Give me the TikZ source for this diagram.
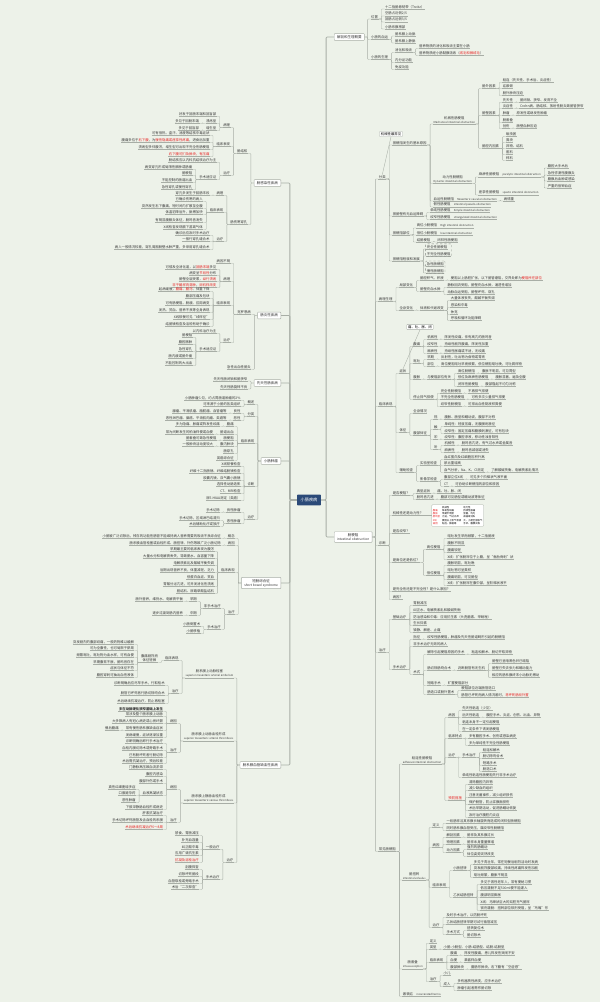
\documentclass[tikz,border=0pt]{standalone}
\usepackage{fontspec}
\setmainfont{Noto Sans CJK SC}
\usetikzlibrary{calc,fit,positioning}
\definecolor{bgmint}{RGB}{237,242,233}
\definecolor{linegray}{RGB}{168,174,166}
\definecolor{hubblue}{RGB}{43,74,120}
\definecolor{mkred}{RGB}{232,36,36}
\newcommand\hl[1]{\textcolor{mkred}{#1}}
\newcommand\engl[1]{{\fontsize{3.8}{4.4}\selectfont #1}}
\newcommand\englb[1]{{\fontsize{4.6}{5.2}\selectfont #1}}
\tikzset{
  leaf/.style={inner xsep=0.6pt, inner ysep=0.7pt, align=center, text=black!78,
    font=\fontsize{4.8}{5.4}\selectfont,
    append after command={(\tikzlastnode.south west) edge[linegray, line width=0.55pt] (\tikzlastnode.south east)}},
  topic/.style={draw=linegray, fill=white, rounded corners=1pt, line width=0.6pt,
    inner xsep=4pt, inner ysep=2.5pt, align=center, text=black!80, font=\fontsize{5}{5.8}\selectfont},
  hub/.style={fill=hubblue, text=white, rounded corners=1pt, inner xsep=5pt, inner ysep=5pt,
    font=\fontsize{6}{7}\selectfont},
  callout/.style={draw=linegray, fill=white, rounded corners=1pt, inner xsep=2pt, inner ysep=1.5pt,
    font=\fontsize{4.8}{5.4}\selectfont},
  tbl/.style={draw=linegray, fill=white, rounded corners=1pt, inner sep=1.5pt,
    font=\fontsize{3.4}{4.6}\selectfont},
  dashbox/.style={draw=linegray!80!black, dashed, rounded corners=1.5pt, inner sep=1pt},
  conn/.style={linegray, line width=0.55pt, rounded corners=1pt},
  trunk/.style={linegray, line width=1.2pt, rounded corners=1.5pt}
}
% right / left children, from a leaf (underline) or from a box
\newcommand\kidr[4]{\node[leaf,anchor=south west] (#1) at ($(#2.south east)+(6,#3)$) {#4};
  \draw[conn] (#2.south east) -- ++(3,0) |- (#1.south west);}
\newcommand\kidrb[4]{\node[leaf,anchor=south west] (#1) at ($(#2.east)+(6,#3)$) {#4};
  \draw[conn] (#2.east) -- ++(3,0) |- (#1.south west);}
\newcommand\kidl[4]{\node[leaf,anchor=south east] (#1) at ($(#2.south west)+(-6,#3)$) {#4};
  \draw[conn] (#2.south west) -- ++(-3,0) |- (#1.south east);}
\newcommand\kidlb[4]{\node[leaf,anchor=south east] (#1) at ($(#2.west)+(-6,#3)$) {#4};
  \draw[conn] (#2.west) -- ++(-3,0) |- (#1.south east);}

\begin{document}
\begin{tikzpicture}[x=0.05cm, y=-0.05cm]
\fill[bgmint] (0,0) rectangle (600,1002);
\useasboundingbox (0,0) rectangle (600,1002);

\node[hub] (xc) at (309,500) {小肠疾病};
\node[topic, anchor=west] (gs) at (334,37) {解剖和生理概要};
\node[topic, anchor=west] (cgz) at (334,537) {肠梗阻\\\englb{intestinal obstruction}};
\node[topic, anchor=east] (Lgr) at (281,183) {肠感染性疾病};
\node[topic, anchor=east] (Lyz) at (281,315.5) {肠炎性疾病};
\node[topic, anchor=east] (Lxt) at (281,383) {先天性肠疾病};
\node[topic, anchor=east] (Lzl) at (281,461) {小肠肿瘤};
\node[topic, anchor=east] (Ldc) at (281,583) {短肠综合征\\\englb{short bowel syndrome}};
\node[topic, anchor=east] (Lxg) at (281,765) {肠系膜血管缺血性疾病};

\draw[trunk] (xc.east) -- ++(5,0) |- (gs.west);
\draw[trunk] (xc.east) -- ++(5,0) |- (cgz.west);
\foreach \t in {Lgr,Lyz,Lxt,Lzl,Ldc,Lxg}
  \draw[trunk] (xc.west) -- ++(-7,0) |- (\t.east);

% ---- anatomy
\kidrb{gs1}{gs}{-18}{位置}
\kidr{gs11}{gs1}{-10}{十二指肠悬韧带（Treitz）}
\kidr{gs12}{gs1}{-3}{空肠占近侧2/5}
\kidr{gs13}{gs1}{3}{回肠占远侧3/5}
\kidr{gs14}{gs1}{10}{小肠系膜根部}
\kidrb{gs2}{gs}{2.5}{小肠的血运}
\kidr{gs21}{gs2}{-3.5}{肠系膜上动脉}
\kidr{gs22}{gs2}{3.5}{肠系膜上静脉}
\kidrb{gs3}{gs}{22.5}{小肠的生理}
\kidr{gs31}{gs3}{-7}{消化和吸收}
\kidr{gs311}{gs31}{-4}{营养物质的消化和吸收主要在小肠}
\kidr{gs312}{gs31}{3}{营养物质经小肠黏膜吸收（\hl{绒毛和微绒毛}）}
\kidr{gs32}{gs3}{3}{内分泌功能}
\kidr{gs33}{gs3}{10}{免疫功能}

% ---- obstruction: classification
\kidrb{fl}{cgz}{-358}{分类}
\node[callout] (flnote) at (391,134) {机械性最常见};
\draw[linegray, line width=0.5pt] (flnote.south) -- (fl.north);
\kidr{fa}{fl}{-34}{按梗阻发生的基本原因}
\kidr{fa1}{fa}{-21}{机械性肠梗阻\\\engl{Mechanical intestinal obstruction}}
\kidr{fa11}{fa1}{-35.5}{肠外因素}
\kidr{fa111}{fa11}{-6}{粘连（先天性、手术后、炎症性）}
\kidr{fa112}{fa11}{0}{疝嵌顿}
\kidr{fa113}{fa11}{7}{肠外肿块压迫}
\kidr{fa12}{fa1}{-8.5}{肠壁因素}
\kidr{fa121}{fa12}{-13}{先天性}\kidr{fa121a}{fa121}{0}{肠闭锁、狭窄、发育不全}
\kidr{fa122}{fa12}{-7}{炎症性}\kidr{fa122a}{fa122}{0}{Crohn病、肠结核、放射性肠炎致肠管狭窄}
\kidr{fa123}{fa12}{0}{肿瘤}\kidr{fa123a}{fa123}{0}{原发性或继发性肿瘤}
\kidr{fa124}{fa12}{7}{肠套叠}
\kidr{fa125}{fa12}{13}{创伤}\kidr{fa125a}{fa125}{0}{肠壁血肿压迫}
\kidr{fa13}{fa1}{24.5}{肠腔内因素}
\kidr{fa131}{fa13}{-12}{蛔虫团}
\kidr{fa132}{fa13}{-6}{粪块}
\kidr{fa133}{fa13}{0}{异物、结石}
\kidr{fa134}{fa13}{6}{胆石}
\kidr{fa135}{fa13}{12}{柿石}
\kidr{fa2}{fa}{38.5}{动力性肠梗阻\\\engl{Dynamic intestinal obstruction}}
\kidr{fa21}{fa2}{-6.5}{麻痹性肠梗阻\quad\engl{paralytic intestinal obstruction}}
\kidr{fa211}{fa21}{-9}{腹腔大手术后}
\kidr{fa212}{fa21}{-2}{急性弥漫性腹膜炎}
\kidr{fa213}{fa21}{4}{腹膜后血肿或感染}
\kidr{fa214}{fa21}{11}{严重的低钾血症}
\kidr{fa22}{fa2}{11.5}{痉挛性肠梗阻\quad\engl{spastic intestinal obstruction}}
\kidr{fa3}{fa}{56}{血运性肠梗阻\quad\engl{Mesenteric vascular obstruction}}
\kidr{fa31}{fa3}{0}{病情重}
\kidr{fa4}{fa}{62}{假性肠梗阻\quad\engl{intestinal pseudo-obstruction}}
\kidr{fb}{fl}{37}{按肠壁有无血运障碍}
\kidr{fb1}{fb}{-3.5}{单纯性肠梗阻\quad\engl{Simple intestinal obstruction}}
\kidr{fb2}{fb}{3.5}{绞窄性肠梗阻\quad\engl{strangulated intestinal obstruction}}
\kidr{fc}{fl}{56}{按梗阻部位}
\kidr{fc1}{fc}{-7}{高位小肠梗阻\quad\engl{High intestinal obstruction}}
\kidr{fc2}{fc}{0}{低位小肠梗阻\quad\engl{low intestinal obstruction}}
\kidr{fc3}{fc}{7}{结肠梗阻}\kidr{fc3a}{fc3}{0}{闭袢性肠梗阻}
\kidr{fd}{fl}{82}{按梗阻程度和发展}
\kidr{fd1}{fd}{-12}{完全性肠梗阻}
\kidr{fd2}{fd}{-5}{不完全性肠梗阻}
\kidr{fd3}{fd}{5}{急性肠梗阻}
\kidr{fd4}{fd}{12}{慢性肠梗阻}
\node[dashbox, fit=(fd1)(fd2)] (fdboxa) {};
\node[dashbox, fit=(fd3)(fd4)] (fdboxb) {};

% ---- pathophysiology
\kidrb{bl}{cgz}{-235.5}{病理生理}
\kidr{bl1}{bl}{-14}{局部变化}
\kidr{bl11}{bl1}{-7}{肠腔积气、积液}\kidr{bl11a}{bl11}{0}{梗阻以上肠腔扩张，以下肠管瘪陷，交界处即为\hl{梗阻所在部位}}
\kidr{bl12}{bl1}{4}{肠壁充血水肿}
\kidr{bl121}{bl12}{-4}{静脉回流受阻，肠壁充血水肿，通透性增加}
\kidr{bl122}{bl12}{3}{动脉血运受阻，肠壁坏死、穿孔}
\kidr{bl2}{bl}{9}{全身变化}
\kidr{bl21}{bl2}{0}{体液和代谢改变}
\kidr{bl211}{bl21}{-10}{大量体液丧失，酸碱平衡失调}
\kidr{bl212}{bl21}{-3}{感染和中毒}
\kidr{bl213}{bl21}{4}{休克}
\kidr{bl214}{bl21}{10}{呼吸和循环功能障碍}

% ---- clinical
\kidrb{lc}{cgz}{-130.5}{临床表现}
\kidr{zz}{lc}{-33}{症状}
\node[callout] (tukz) at (420,327) {痛、吐、胀、闭};
\draw[linegray, line width=0.5pt] (tukz.south) -- (zz.north);
\kidr{zz1}{zz}{-27}{腹痛}
\kidr{zz11}{zz1}{-7}{机械性}\kidr{zz11a}{zz11}{0}{阵发性绞痛，伴有高亢的肠鸣音}
\kidr{zz12}{zz1}{0}{绞窄性}\kidr{zz12a}{zz12}{0}{持续性剧烈腹痛，阵发性加重}
\kidr{zz13}{zz1}{7}{麻痹性}\kidr{zz13a}{zz13}{0}{持续性胀痛或不适，无绞痛}
\kidr{zz2}{zz}{-10}{呕吐}
\kidr{zz21}{zz2}{-4}{早期}\kidr{zz21a}{zz21}{0}{反射性，吐出物为食物或胃液}
\kidr{zz22}{zz2}{3}{部位}\kidr{zz22a}{zz22}{0}{高位梗阻呕吐早而频繁，低位梗阻呕吐晚，可吐粪样物}
\kidr{zz3}{zz}{6}{腹胀}
\kidr{zz31}{zz3}{0}{与梗阻部位有关}
\kidr{zz311}{zz31}{-6}{高位肠梗阻}\kidr{zz311a}{zz311}{0}{腹胀不明显，可见胃型}
\kidr{zz312}{zz31}{0}{低位及麻痹性肠梗阻}\kidr{zz312a}{zz312}{0}{腹胀显著，遍及全腹}
\kidr{zz313}{zz31}{7}{闭袢性肠梗阻}\kidr{zz313a}{zz313}{0}{腹部隆起不均匀对称}
\kidr{zz4}{zz}{26}{停止排气排便}
\kidr{zz41}{zz4}{-6}{完全性肠梗阻}\kidr{zz41a}{zz41}{0}{不再排气排便}
\kidr{zz42}{zz4}{0}{不完全性肠梗阻}\kidr{zz42a}{zz42}{0}{可有多次少量排气排便}
\kidr{zz43}{zz4}{7}{绞窄性肠梗阻}\kidr{zz43a}{zz43}{0}{可排出血性黏液样粪便}
\kidr{tz}{lc}{26}{体征}
\kidr{tz1}{tz}{-19}{全身情况}
\kidr{tz2}{tz}{3}{腹部体征}
\kidr{tz21}{tz2}{-16}{视}\kidr{tz21a}{tz21}{0}{腹胀、肠型和蠕动波，腹部不对称}
\kidr{tz22}{tz2}{-6}{触}
\kidr{tz221}{tz22}{-3}{单纯性：轻度压痛，无腹膜刺激征}
\kidr{tz222}{tz22}{4}{绞窄性：固定压痛和腹膜刺激征，可有包块}
\kidr{tz23}{tz2}{4}{叩}\kidr{tz23a}{tz23}{0}{绞窄性：腹腔渗液，移动性浊音阳性}
\kidr{tz24}{tz2}{14}{听}
\kidr{tz241}{tz24}{-4}{机械性}\kidr{tz241a}{tz241}{0}{肠鸣音亢进，有气过水声或金属音}
\kidr{tz242}{tz24}{3}{麻痹性}\kidr{tz242a}{tz242}{0}{肠鸣音减弱或消失}
\kidr{fz}{lc}{66}{辅助检查}
\kidr{fz1}{fz}{-7}{实验室检查}
\kidr{fz11}{fz1}{-6}{血红蛋白及红细胞压积升高}
\kidr{fz12}{fz1}{0}{尿比重增高}
\kidr{fz13}{fz1}{7}{血气分析，Na、K、Cl测定}\kidr{fz13a}{fz13}{0}{了解酸碱失衡、电解质紊乱情况}
\kidr{fz2}{fz}{9}{影像学检查}
\kidr{fz21}{fz2}{-2}{腹部立位X线}\kidr{fz21a}{fz21}{0}{可见多个阶梯状气液平面}
\kidr{fz22}{fz2}{5}{CT}\kidr{fz22a}{fz22}{0}{可协助诊断梗阻的部位和原因}

% ---- diagnosis
\kidrb{zd}{cgz}{8.5}{诊断}
\kidr{zd1}{zd}{-50}{是否梗阻？}
\kidr{zd11}{zd1}{-2}{典型症状}\kidr{zd11a}{zd11}{0}{痛、吐、胀、闭}
\kidr{zd12}{zd1}{4}{肠鸣音亢进}\kidr{zd12a}{zd12}{0}{腹部可见肠型或蠕动波等体征}
\kidr{zd2}{zd}{-30}{机械性还是动力性？}
\node[tbl, anchor=west] (jbtab) at ($(zd2.south east)+(8,0)$) {%
  \begin{tabular}{@{}l@{\hspace{3pt}}l@{\hspace{3pt}}l@{}}
   & 机械性 & 动力性\\
  \hl{腹痛} & 阵发性绞痛 & 持续性胀痛\\
  \hl{腹胀} & 早期不明显 & 显著，均匀\\
  \hl{肠鸣音} & 亢进，气过水声 & 减弱或消失\\
  \hl{X线} & 梗阻以上积气积液 & 大、小肠全部胀气\\
  \hl{病因} & 粘连、肿瘤等 & 手术、腹膜炎等
  \end{tabular}};
\draw[conn] (zd2.south east) -- (jbtab.west);
\kidr{zd3}{zd}{-12}{是否绞窄？}
\kidr{zd4}{zd}{17}{是高位还是低位？}
\kidr{zd41}{zd4}{-13}{高位梗阻}
\kidr{zd411}{zd41}{-11}{呕吐发生早而频繁，十二指肠液}
\kidr{zd412}{zd41}{-4}{腹胀不明显}
\kidr{zd413}{zd41}{3}{腹痛较轻}
\kidr{zd414}{zd41}{10}{X线：扩张肠袢位于上腹，呈“鱼肋骨刺”状}
\kidr{zd42}{zd4}{13}{低位梗阻}
\kidr{zd421}{zd42}{-10}{腹胀明显，呕吐晚}
\kidr{zd422}{zd42}{-3}{呕吐物可呈粪样}
\kidr{zd423}{zd42}{4}{腹痛明显，可见肠型}
\kidr{zd424}{zd42}{10}{X线：扩张肠袢在腹中部，呈阶梯状液平}
\kidr{zd5}{zd}{46}{是完全性还是不完全性？是什么原因？}
\kidr{zd6}{zd}{54}{病因？}

% ---- treatment
\kidrb{tr}{cgz}{115.5}{治疗}
\kidr{tr1}{tr}{-33}{基础治疗}
\kidr{tr11}{tr1}{-14}{胃肠减压}
\kidr{tr12}{tr1}{-7}{纠正水、电解质紊乱和酸碱失衡}
\kidr{tr13}{tr1}{0}{防治感染和中毒：应用抗生素（头孢菌素、甲硝唑）}
\kidr{tr14}{tr1}{6}{生长抑素}
\kidr{tr15}{tr1}{13}{镇静、解痉、止痛}
\kidr{tr2}{tr}{17}{手术治疗}
\kidr{tr21}{tr2}{-30}{指征}\kidr{tr21a}{tr21}{0}{绞窄性肠梗阻，肿瘤及先天性肠道畸形引起的肠梗阻}
\kidr{tr22}{tr2}{-23}{非手术治疗无效的病人}
\kidr{tr23}{tr2}{5}{术式}
\kidr{tr231}{tr23}{-20}{解除引起梗阻原因的手术}\kidr{tr231a}{tr231}{0}{粘连松解术、肠切开取异物}
\kidr{tr232}{tr23}{-4}{肠切除肠吻合术}\kidr{tr232a}{tr232}{0}{判断肠管有无生机}
\kidr{tr2321}{tr232a}{-7}{肠壁已呈暗黑色并已塌陷}
\kidr{tr2322}{tr232a}{0}{肠壁已失去张力和蠕动能力}
\kidr{tr2323}{tr232a}{7}{相应的肠系膜终末小动脉无搏动}
\kidr{tr233}{tr23}{11}{短路手术}\kidr{tr233a}{tr233}{0}{旷置梗阻部分}
\kidr{tr234}{tr23}{20}{肠造口或肠外置术}
\kidr{tr2341}{tr234}{-4}{梗阻部位近端肠管造口}
\kidr{tr2342}{tr234}{3}{肠管已坏死而病人情况差时，\hl{将坏死肠段外置}}

% ---- common types
\kidrb{cj}{cgz}{314.5}{常见肠梗阻}
\kidr{nl}{cj}{-87.5}{粘连性肠梗阻\\\engl{adhesive intestinal obstruction}}
\kidr{nl1}{nl}{-46.5}{病因}
\kidr{nl11}{nl1}{-7}{先天性粘连（少见）}
\kidr{nl12}{nl1}{0}{后天性粘连}\kidr{nl12a}{nl12}{0}{腹腔手术、炎症、创伤、出血、异物}
\kidr{nl13}{nl1}{7}{粘连本身不一定引起梗阻}
\kidr{nl14}{nl1}{14}{在一定条件下诱发肠梗阻}
\kidr{nl2}{nl}{-25.5}{临床特点}
\kidr{nl21}{nl2}{0}{多有腹腔手术、创伤或感染病史}
\kidr{nl22}{nl2}{7}{多为单纯性不完全性肠梗阻}
\kidr{nl3}{nl}{-6.5}{治疗}
\kidr{nl31}{nl3}{0}{手术治疗}
\kidr{nl311}{nl31}{-5}{粘连松解术}
\kidr{nl312}{nl31}{1}{肠切除吻合术}
\kidr{nl313}{nl31}{8}{短路手术}
\kidr{nl314}{nl31}{14}{肠造口术}
\kidr{nl32}{nl3}{20}{单纯性粘连性肠梗阻先行非手术治疗}
\kidr{nl4}{nl}{36.5}{\hl{预防措施}}
\kidr{nl41}{nl4}{-16}{清除腹腔内异物}
\kidr{nl42}{nl4}{-10}{减少缺血的组织}
\kidr{nl43}{nl4}{-3}{注意无菌操作，减少组织损伤}
\kidr{nl44}{nl4}{4}{保护肠管，防止浆膜面损伤}
\kidr{nl45}{nl4}{10}{术后早期活动，促进肠蠕动恢复}
\kidr{nl46}{nl4}{17}{及时治疗腹腔内炎症}
\kidr{nz}{cj}{28.5}{肠扭转\\\engl{intestinal volvulus}}
\kidr{nz1}{nz}{-52.5}{定义}
\kidr{nz11}{nz1}{-4}{一段肠袢沿其系膜长轴旋转而造成的闭袢型肠梗阻}
\kidr{nz12}{nz1}{3}{同时肠系膜血管受压，属绞窄性肠梗阻}
\kidr{nz2}{nz}{-32.5}{病因}
\kidr{nz21}{nz2}{-10}{解剖因素}\kidr{nz21a}{nz21}{0}{肠袢及其系膜过长}
\kidr{nz22}{nz2}{-3}{物理因素}\kidr{nz22a}{nz22}{0}{肠袢本身重量骤增}
\kidr{nz23}{nz2}{5}{动力因素}
\kidr{nz231}{nz23}{-3}{强烈的肠蠕动}
\kidr{nz232}{nz23}{4}{体位姿势突然改变}
\kidr{nz3}{nz}{7.5}{临床表现}
\kidr{nz31}{nz3}{-17}{小肠扭转}
\kidr{nz311}{nz31}{-6}{多见于青壮年，常在饱餐后剧烈活动时发病}
\kidr{nz312}{nz31}{0}{突发剧烈腹部绞痛，持续性疼痛阵发性加剧}
\kidr{nz313}{nz31}{7}{呕吐频繁，腹胀不明显}
\kidr{nz32}{nz3}{10}{乙状结肠扭转}
\kidr{nz321}{nz32}{-13}{多见于男性老年人，常有便秘习惯}
\kidr{nz322}{nz32}{-7}{低压灌肠不足500ml便不能灌入}
\kidr{nz323}{nz32}{0}{腹部明显膨胀}
\kidr{nz324}{nz32}{7}{X线：马蹄状巨大的双腔充气肠袢}
\kidr{nz325}{nz32}{13}{钡剂灌肠：扭转部位钡剂受阻，呈“鸟嘴”形}
\kidr{nz4}{nz}{47.5}{治疗}
\kidr{nz41}{nz4}{-10}{及时手术治疗，以防肠坏死}
\kidr{nz42}{nz4}{-3}{乙状结肠扭转早期可试行插管减压}
\kidr{nz43}{nz4}{7}{手术方式}
\kidr{nz431}{nz43}{-4}{扭转复位术}
\kidr{nz432}{nz43}{3}{肠切除术}
\kidr{ntd}{cj}{117.5}{肠套叠\\\engl{intussusception}}
\kidr{ntd1}{ntd}{-25.5}{定义}
\kidr{ntd2}{ntd}{-19.5}{类型}\kidr{ntd2a}{ntd2}{0}{小肠-小肠型、小肠-结肠型、结肠-结肠型}
\kidr{ntd3}{ntd}{-6.5}{临床表现}
\kidr{ntd31}{ntd3}{-7}{腹痛}\kidr{ntd31a}{ntd31}{0}{阵发性腹痛，患儿阵发性哭闹不安}
\kidr{ntd32}{ntd3}{0}{血便}\kidr{ntd32a}{ntd32}{0}{果酱样血便}
\kidr{ntd33}{ntd3}{7}{腹部肿块}\kidr{ntd33a}{ntd33}{0}{腊肠形肿块，右下腹有“空虚感”}
\kidr{ntd4}{ntd}{12.5}{治疗}
\kidr{ntd41}{ntd4}{-6}{小儿}
\kidr{ntd42}{ntd4}{5}{成人}
\kidr{ntd421}{ntd42}{-3}{多有器质性病变，应手术治疗}
\kidr{ntd422}{ntd42}{4}{肿瘤引起者需作肠切除}
\kidr{kd}{cj}{145}{嵌顿疝\quad\engl{incarcerated hernia}}

% ---- left: infections
\kidlb{jh}{Lgr}{-29.5}{肠结核}
\kidl{jh1}{jh}{-26}{病理}
\kidl{jh11}{jh1}{-11}{好发于回肠末端和回盲部}
\kidl{jh12}{jh1}{-4}{溃疡型}\kidl{jh12a}{jh12}{0}{多见于回肠末端}
\kidl{jh13}{jh1}{3}{增生型}\kidl{jh13a}{jh13}{0}{多见于回盲部}
\kidl{jh2}{jh}{-7}{临床表现}
\kidl{jh21}{jh2}{-11}{可有低热、盗汗、消瘦等结核中毒症状}
\kidl{jh22}{jh2}{-4}{腹痛多位于\hl{右下腹}，为\hl{慢性隐痛或痉挛性疼痛}，进食后加重}
\kidl{jh23}{jh2}{3}{溃疡型多伴腹泻，增生型可出现不完全性肠梗阻}
\kidl{jh24}{jh2}{10}{\hl{右下腹可扪及肿块，有压痛}}
\kidl{jh3}{jh}{22}{治疗}
\kidl{jh31}{jh3}{-13}{肠结核应以内科抗结核治疗为主}
\kidl{jh32}{jh3}{4}{手术适应证}
\kidl{jh321}{jh32}{-10}{病变穿孔形成局限性脓肿或肠瘘}
\kidl{jh322}{jh32}{-4}{肠梗阻}
\kidl{jh323}{jh32}{3}{不能控制的肠道出血}
\kidl{jh324}{jh32}{10}{急性穿孔或慢性穿孔}
\kidlb{sh}{Lgr}{41.5}{肠伤寒穿孔}
\kidl{sh1}{sh}{-29}{病理}\kidl{sh1a}{sh1}{0}{穿孔多发生于回肠末段}
\kidl{sh2}{sh}{-12}{临床表现}
\kidl{sh21}{sh2}{-11}{已确诊伤寒的病人}
\kidl{sh22}{sh2}{-4}{突然发生右下腹痛，短时间内扩散至全腹}
\kidl{sh23}{sh2}{2}{体温初降后升，脉搏加快}
\kidl{sh24}{sh2}{10}{有明显腹膜炎体征，肠鸣音消失}
\kidl{sh25}{sh2}{17}{X线检查发现膈下游离气体}
\kidl{sh3}{sh}{17}{治疗}
\kidl{sh31}{sh3}{-6}{确诊后应及时手术治疗}
\kidl{sh32}{sh3}{0}{一般行穿孔缝合术}
\kidl{sh33}{sh3}{8}{病人一般情况较差，穿孔周围肠壁水肿严重，多采用穿孔缝合术}

% ---- left: inflammatory
\kidlb{kl}{Lyz}{-1}{克罗恩病}
\kidl{kl1}{kl}{-51}{病因不明}
\kidl{kl2}{kl}{-33}{病理}
\kidl{kl21}{kl2}{-12}{可侵及全消化道，以\hl{回肠末端}多见}
\kidl{kl22}{kl2}{-6}{病变呈\hl{节段性}分布}
\kidl{kl23}{kl2}{0}{肠壁全层受累，\hl{纵行溃疡}}
\kidl{kl24}{kl2}{6}{\hl{非干酪样肉芽肿}，\hl{卵石样改变}}
\kidl{kl3}{kl}{-9}{临床表现}
\kidl{kl31}{kl3}{-14}{起病缓慢，\hl{腹痛、腹泻}、体重下降}
\kidl{kl32}{kl3}{-7}{腹部压痛及包块}
\kidl{kl33}{kl3}{0}{可有肠梗阻、肠瘘、肛周病变}
\kidl{kl34}{kl3}{7}{发热、贫血、营养不良等全身表现}
\kidl{kl35}{kl3}{14}{X线钡餐可见“线样征”}
\kidl{kl36}{kl3}{21}{结肠镜检查及活检有助于确诊}
\kidl{kl4}{kl}{28}{治疗}
\kidl{kl41}{kl4}{-9}{以内科治疗为主}
\kidl{kl42}{kl4}{9}{手术适应证}
\kidl{kl421}{kl42}{-14}{肠梗阻}
\kidl{kl422}{kl42}{-7}{腹腔脓肿}
\kidl{kl423}{kl42}{0}{急性穿孔}
\kidl{kl424}{kl42}{7}{肠内瘘或肠外瘘}
\kidl{kl425}{kl42}{14}{不能控制的大出血}
\kidlb{cx}{Lyz}{54}{急性出血性肠炎}

% ---- left: congenital
\kidlb{xt1}{Lxt}{-2}{先天性肠闭锁和肠狭窄}
\kidlb{xt2}{Lxt}{6}{先天性肠旋转不良}

% ---- left: tumours
\kidlb{zl1}{Lzl}{-56.5}{概述}
\kidl{zl11}{zl1}{-4}{小肠肿瘤少见，约占胃肠道肿瘤的2\%}
\kidl{zl12}{zl1}{2}{可来源于小肠的各类组织}
\kidlb{zl2}{Lzl}{-44.5}{分类}
\kidl{zl21}{zl2}{-3}{良性}\kidl{zl21a}{zl21}{0}{腺瘤、平滑肌瘤、脂肪瘤、血管瘤等}
\kidl{zl22}{zl2}{4}{恶性}\kidl{zl22a}{zl22}{0}{恶性淋巴瘤、腺癌、平滑肌肉瘤、类癌等}
\kidlb{zl3}{Lzl}{-17.5}{临床表现}
\kidl{zl31}{zl3}{-17}{腹痛}\kidl{zl31a}{zl31}{0}{多为隐痛、胀痛或阵发性绞痛}
\kidl{zl32}{zl3}{-9}{肠道出血}\kidl{zl32a}{zl32}{0}{常为间断发生的柏油样便或血便}
\kidl{zl33}{zl3}{-3}{肠梗阻}\kidl{zl33a}{zl33}{0}{肠套叠可致急性梗阻}
\kidl{zl34}{zl3}{3}{腹内肿块}\kidl{zl34a}{zl34}{0}{一般肿块活动度较大}
\kidl{zl35}{zl3}{10}{肠穿孔}
\kidl{zl36}{zl3}{17}{类癌综合征}
\kidlb{zl4}{Lzl}{25.5}{诊断}
\kidl{zl41}{zl4}{-20}{X线钡餐检查}
\kidl{zl42}{zl4}{-13}{纤维十二指肠镜、纤维结肠镜检查}
\kidl{zl43}{zl4}{-6}{胶囊内镜、双气囊小肠镜}
\kidl{zl44}{zl4}{0}{选择性动脉造影}
\kidl{zl45}{zl4}{7}{CT、MRI检查}
\kidl{zl46}{zl4}{14}{尿5-HIAA测定（类癌）}
\kidlb{zl5}{Lzl}{58.5}{治疗}
\kidl{zl51}{zl5}{-7}{良性肿瘤}\kidl{zl51a}{zl51}{0}{手术切除}
\kidl{zl52}{zl5}{4}{恶性肿瘤}
\kidl{zl521}{zl52}{-3}{手术切除，区域淋巴结清扫}
\kidl{zl522}{zl52}{3}{术后辅助化疗或放疗}

% ---- left: short bowel
\kidlb{dc1}{Ldc}{-44.5}{概念}\kidl{dc1a}{dc1}{0}{小肠被广泛切除后，残存的功能性肠管不能维持病人营养需要的吸收不良综合征}
\kidlb{dc2}{Ldc}{-37.5}{病因}\kidl{dc2a}{dc2}{0}{肠系膜血管栓塞或血栓形成、肠扭转、外伤等致广泛小肠切除}
\kidlb{dc3}{Ldc}{-10.5}{临床表现}
\kidl{dc31}{dc3}{-21}{早期最主要的临床表现为腹泻}
\kidl{dc32}{dc3}{-14}{大量水分和电解质丢失，导致脱水、血容量下降}
\kidl{dc33}{dc3}{-7}{电解质紊乱及酸碱平衡失调}
\kidl{dc34}{dc3}{0}{后期出现营养不良，体重减轻、乏力}
\kidl{dc35}{dc3}{7}{低蛋白血症、贫血}
\kidl{dc36}{dc3}{14}{胃酸分泌亢进，可并发消化性溃疡}
\kidl{dc37}{dc3}{21}{胆结石、尿路草酸盐结石}
\kidlb{dc4}{Ldc}{31.5}{治疗}
\kidl{dc41}{dc4}{-6}{非手术治疗}
\kidl{dc411}{dc41}{-7}{早期}\kidl{dc411a}{dc411}{0}{肠外营养，维持水、电解质平衡}
\kidl{dc412}{dc41}{7}{中期}\kidl{dc412a}{dc412}{0}{逐步过渡到肠内营养}
\kidl{dc42}{dc4}{15}{手术治疗}
\kidl{dc421}{dc42}{-3}{小肠倒置术}
\kidl{dc422}{dc42}{4}{小肠移植}

% ---- left: mesenteric vessels
\kidlb{ds}{Lxg}{-87}{肠系膜上动脉栓塞\\\engl{superior mesenteric arterial embolism}}
\kidl{ds1}{ds}{-17.5}{临床表现}
\kidl{ds11}{ds1}{2}{腹痛剧烈而\\体征轻微}
\kidl{ds111}{ds11}{-18}{突发剧烈的腹部绞痛，一般药物难以缓解}
\kidl{ds112}{ds11}{-12}{可为全腹性，也可局限于脐周}
\kidl{ds113}{ds11}{-5}{频繁呕吐，呕吐物为血水样，可有血便}
\kidl{ds114}{ds11}{2}{早期腹软不胀，肠鸣音存在}
\kidl{ds115}{ds11}{8}{症状与体征不符}
\kidl{ds116}{ds11}{15}{腹腔穿刺可抽出血性液体}
\kidl{ds2}{ds}{15.5}{治疗}
\kidl{ds21}{ds2}{-8}{诊断明确后应尽早手术，行取栓术}
\kidl{ds22}{ds2}{2}{肠管已坏死者行肠切除吻合术}
\kidl{ds23}{ds2}{10}{术后继续抗凝治疗，防止再栓塞}
\kidlb{dx}{Lxg}{-24}{肠系膜上动脉血栓形成\\\engl{superior mesenteric arterial thrombosis}}
\kidl{dx1}{dx}{-17.5}{病因}
\kidl{dx11}{dx1}{-12}{\textbf{多在动脉硬化狭窄基础上发生}}
\kidl{dx12}{dx1}{-7}{常涉及整个肠系膜上动脉}
\kidl{dx13}{dx1}{0}{大多数病人有冠心病史或心房纤颤}
\kidl{dx14}{dx1}{7}{常有慢性肠系膜缺血症状}\kidl{dx14a}{dx14}{0}{餐后腹痛}
\kidl{dx15}{dx1}{14}{发病缓慢，症状逐渐加重}
\kidl{dx2}{dx}{11.5}{治疗}
\kidl{dx21}{dx2}{-9}{诊断明确后即行手术治疗}
\kidl{dx22}{dx2}{-2}{血栓内膜切除术或旁路手术}
\kidl{dx23}{dx2}{5}{已有肠坏死者行肠切除}
\kidl{dx24}{dx2}{11}{术后需抗凝治疗，预后较差}
\kidlb{dv}{Lxg}{38}{肠系膜上静脉血栓形成\\\engl{superior mesenteric venous thrombosis}}
\kidl{dv1}{dv}{-13.5}{病因}
\kidl{dv11}{dv1}{-20}{门静脉高压致血流淤滞}
\kidl{dv12}{dv1}{-13}{腹腔内感染}
\kidl{dv13}{dv1}{-6}{腹部外伤或手术}
\kidl{dv14}{dv1}{6}{血液高凝状态}
\kidl{dv141}{dv14}{-6}{真性红细胞增多症}
\kidl{dv142}{dv14}{0}{口服避孕药}
\kidl{dv143}{dv14}{7}{恶性肿瘤}
\kidl{dv15}{dv1}{20}{下肢深静脉血栓形成病史}
\kidl{dv2}{dv}{19.5}{治疗}
\kidl{dv21}{dv2}{-7}{肝素抗凝治疗}
\kidl{dv22}{dv2}{0}{手术切除坏死肠管及含血栓的系膜}
\kidl{dv23}{dv2}{7}{\hl{术后继续抗凝治疗6～8周}}
\kidlb{dz}{Lxg}{97.5}{治疗}
\kidl{dz1}{dz}{-13}{一般治疗}
\kidl{dz11}{dz1}{-14}{禁食、胃肠减压}
\kidl{dz12}{dz1}{-7}{补充血容量}
\kidl{dz13}{dz1}{0}{纠正酸中毒}
\kidl{dz14}{dz1}{6}{应用广谱抗生素}
\kidl{dz15}{dz1}{13}{\hl{抗凝及溶栓治疗}}
\kidl{dz2}{dz}{17}{手术治疗}
\kidl{dz21}{dz2}{-10}{剖腹探查}
\kidl{dz22}{dz2}{-3}{切除坏死肠段}
\kidl{dz23}{dz2}{4}{血管取栓或旁路手术}
\kidl{dz24}{dz2}{10}{术后“二次探查”}
\end{tikzpicture}
\end{document}
